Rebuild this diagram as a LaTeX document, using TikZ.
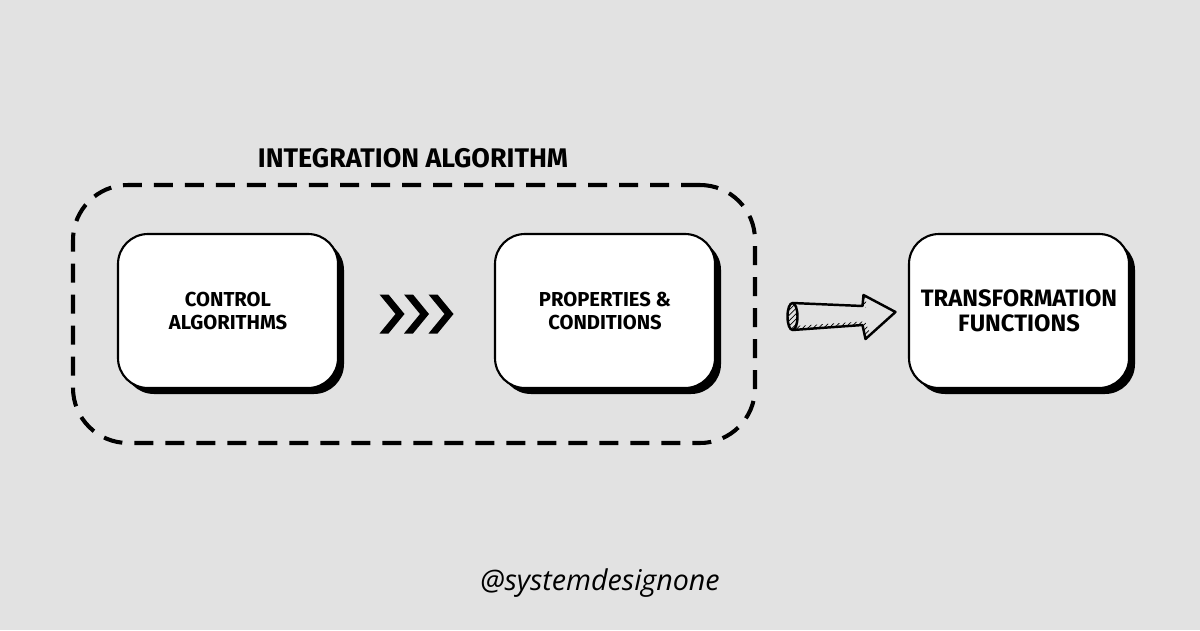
\documentclass[tikz,border=0pt]{standalone}
\usepackage{fontspec}
\setmainfont{Fira Sans}
\newfontfamily\footfont{Open Sans}
\usetikzlibrary{shadows,patterns,calc}
\definecolor{paper}{RGB}{226,226,226}

\begin{document}
\begin{tikzpicture}[
    card/.style={draw=black, line width=1.2pt, fill=white, rounded corners=0.6cm,
        minimum width=4.4cm, minimum height=3.08cm, align=center,
        font={\bfseries},
        drop shadow={shadow xshift=0.12cm, shadow yshift=-0.12cm, opacity=1, fill=black}},
    group/.style={draw=black, line width=2.3pt, dash pattern=on 0.38cm off 0.24cm,
        rounded corners=1.1cm, minimum width=13.64cm, minimum height=5.16cm},
    chevron/.style={fill=black},
    sketch/.style={draw=black, line width=1.4pt, line join=round},
    hatch/.style={pattern=north east lines, pattern color=black},
    ]
    % Background
    \fill[paper] (0,0) rectangle (24,12.6);
    \useasboundingbox (0,0) rectangle (24,12.6);

    % Integration algorithm group
    \node[group] (algo) at (8.28,6.32) {};
    \node[font={\bfseries\fontsize{15.3}{17}\selectfont}] (title) at (8.26,9.44) {INTEGRATION ALGORITHM};

    % Boxes
    \node[card, font={\bfseries\fontsize{11.5}{13}\selectfont}] (ctrl) at (4.56,6.38) {CONTROL\\ALGORITHMS};
    \node[card, font={\bfseries\fontsize{11.5}{13}\selectfont}] (props) at (12.1,6.38) {PROPERTIES \&\\CONDITIONS};
    \node[card, font={\bfseries\fontsize{13.5}{14.5}\selectfont}] (trans) at (20.38,6.38) {TRANSFORMATION\\FUNCTIONS};

    % Chevrons between the boxes
    \coordinate (chev) at ($(ctrl.east)!0.5!(props.west)$);
    \foreach \i in {0,1,2}{
        \fill[chevron, shift={($(chev)+(-0.74+0.49*\i,-0.06)$)}]
            (0,0.39) -- (0.18,0.39) -- (0.5,0) -- (0.18,-0.39) -- (0,-0.39) -- (0.32,0) -- cycle;
    }

    % Sketchy arrow to the transformation functions
    \coordinate (push) at ($(algo.east)!0.5!(trans.west)$);
    \begin{scope}[shift={(push)}]
        \fill[hatch] (-0.74,-0.35) -- (0.60,-0.25) -- (0.60,-0.18) -- (-0.74,-0.27) -- cycle;
        \fill[hatch] (0.60,-0.25) -- (0.66,-0.53) -- (0.76,-0.44) -- (0.66,-0.20) -- cycle;
        \fill[hatch] (0.60,0.13) -- (0.62,0.35) -- (0.68,0.30) -- (0.66,0.10) -- cycle;
        \draw[sketch] (-0.80,0.19) -- (0.60,0.13) -- (0.62,0.35) -- (1.26,0.01)
            -- (0.66,-0.53) -- (0.60,-0.25) -- (-0.80,-0.35);
        \draw[sketch, hatch] (-0.80,-0.08) ellipse (0.1 and 0.27);
    \end{scope}

    % Footer
    \node[font={\footfont\itshape\fontsize{16.3}{18}\selectfont}] (footer) at (12,0.94) {@systemdesignone};
\end{tikzpicture}
\end{document}
